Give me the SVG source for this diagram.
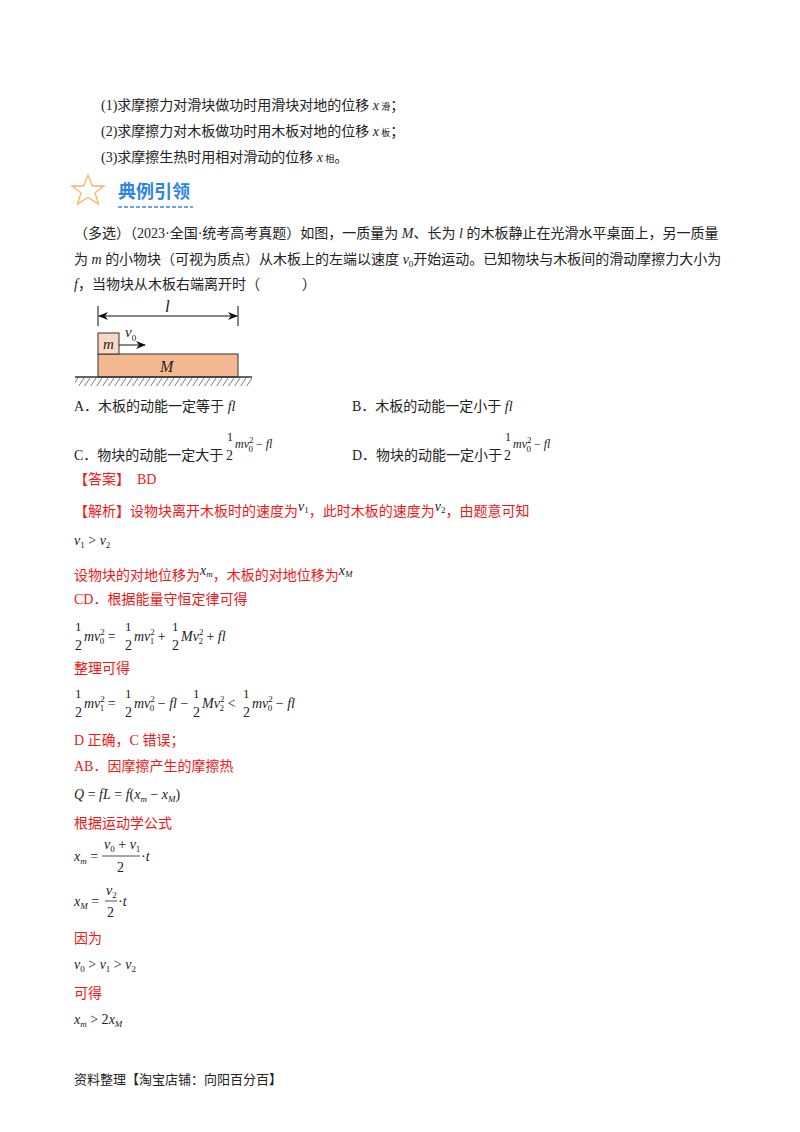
<svg xmlns="http://www.w3.org/2000/svg" width="800" height="1132" viewBox="0 0 800 1132">
<style>
text{font-family:"Liberation Serif","Noto Sans CJK SC",serif;font-size:14px;fill:#222}
.r{fill:#f01818}
.i{font-style:italic}
.s{font-size:9px}
.m{font-family:"Liberation Serif",serif;font-size:14px}
</style>
<defs>
<marker id="ar" markerWidth="10" markerHeight="8" refX="9" refY="4" orient="auto" markerUnits="userSpaceOnUse"><path d="M0,0 L10,4 L0,8 L3,4Z" fill="#111"/></marker>
<marker id="al" markerWidth="10" markerHeight="8" refX="1" refY="4" orient="auto" markerUnits="userSpaceOnUse"><path d="M10,0 L0,4 L10,8 L7,4Z" fill="#111"/></marker>
<pattern id="h" width="6" height="9" patternUnits="userSpaceOnUse"><path d="M6,0 L0,9" stroke="#555" stroke-width="0.8"/></pattern>
</defs>
<rect width="800" height="1132" fill="#fff"/>
<text x="101" y="110">(1)求摩擦力对滑块做功时用滑块对地的位移 <tspan class="i">x</tspan><tspan class="s"> 滑</tspan>；</text>
<text x="101" y="136">(2)求摩擦力对木板做功时用木板对地的位移 <tspan class="i">x</tspan><tspan class="s"> 板</tspan>；</text>
<text x="101" y="162">(3)求摩擦生热时用相对滑动的位移 <tspan class="i">x</tspan><tspan class="s"> 相</tspan>。</text>
<g id="title">
<polygon points="88,175 92.5,186 104,186 95,193 98.5,204 88,197.5 77.5,204 81,193 72,186 83.5,186" fill="none" stroke="#f0b860" stroke-width="1.3"/>
<text x="118" y="198" style="font-family:'Noto Sans CJK SC',sans-serif;font-size:18px;fill:#2f86e0;font-weight:bold">典例引领</text>
<line x1="118" y1="207" x2="193" y2="207" stroke="#6aa6ea" stroke-width="2" stroke-dasharray="4,2"/>
</g>
<text x="74" y="238">（多选）（2023·全国·统考高考真题）如图，一质量为 <tspan class="i">M</tspan>、长为 <tspan class="i">l</tspan> 的木板静止在光滑水平桌面上，另一质量</text>
<text x="74" y="264">为 <tspan class="i">m</tspan> 的小物块（可视为质点）从木板上的左端以速度 <tspan class="i">v</tspan><tspan class="s" dy="3">0</tspan><tspan dy="-3">开始运动。已知物块与木板间的滑动摩擦力大小为</tspan></text>
<text x="74" y="289"><tspan class="i">f</tspan>，当物块从木板右端离开时（　　　）</text>
<g id="figure">
<line x1="98" y1="306" x2="98" y2="326" stroke="#111"/>
<line x1="238" y1="306" x2="238" y2="326" stroke="#111"/>
<line x1="99" y1="316" x2="237" y2="316" stroke="#111" marker-start="url(#al)" marker-end="url(#ar)"/>
<text x="165" y="312" class="i" style="font-size:17px">l</text>
<rect x="75" y="377" width="177" height="9" fill="url(#h)"/>
<rect x="98" y="354" width="140" height="23" fill="#f4b890" stroke="#333"/>
<rect x="98" y="333" width="21" height="21" fill="#f8d8c4" stroke="#333"/>
<line x1="75" y1="377" x2="252" y2="377" stroke="#333" stroke-width="1.3"/>
<text x="103" y="349" class="i" style="font-size:15px">m</text>
<text x="160" y="372" class="i" style="font-size:16px">M</text>
<line x1="119" y1="345" x2="145" y2="345" stroke="#111" marker-end="url(#ar)"/>
<text x="125" y="337" class="i" style="font-size:15px">v<tspan class="s" dy="4" style="font-style:normal">0</tspan></text>
</g>
<text x="74" y="411">A．木板的动能一定等于 <tspan class="i">fl</tspan></text>
<text x="352" y="411">B．木板的动能一定小于 <tspan class="i">fl</tspan></text>
<text x="74" y="460">C．物块的动能一定大于</text>
<text x="227" y="441" style="font-size:12px">1</text><text x="226" y="460">2</text>
<text x="235" y="448" class="i" style="font-size:12px">mv<tspan class="s" dy="-5" style="font-style:normal">2</tspan><tspan class="s" dx="-5" dy="9" style="font-style:normal">0</tspan><tspan dy="-4" style="font-style:normal"> − </tspan>fl</text>
<text x="352" y="460">D．物块的动能一定小于</text>
<text x="505" y="441" style="font-size:12px">1</text><text x="504" y="460">2</text>
<text x="513" y="448" class="i" style="font-size:12px">mv<tspan class="s" dy="-5" style="font-style:normal">2</tspan><tspan class="s" dx="-5" dy="9" style="font-style:normal">0</tspan><tspan dy="-4" style="font-style:normal"> − </tspan>fl</text>
<text x="74" y="484" class="r">【答案】　BD</text>
<text x="74" y="516" class="r">【解析】设物块离开木板时的速度为<tspan class="i" dy="-5" style="fill:#222">v</tspan><tspan class="s" dy="2" style="fill:#222">1</tspan><tspan dy="3">，此时木板的速度为</tspan><tspan class="i" dy="-5" style="fill:#222">v</tspan><tspan class="s" dy="2" style="fill:#222">2</tspan><tspan dy="3">，由题意可知</tspan></text>
<text x="74" y="545" class="m"><tspan class="i">v</tspan><tspan class="s" dy="3">1</tspan><tspan dy="-3"> &gt; </tspan><tspan class="i">v</tspan><tspan class="s" dy="3">2</tspan></text>
<text x="74" y="580" class="r">设物块的对地位移为<tspan class="i" dy="-5" style="fill:#222">x</tspan><tspan class="s i" dy="2" style="fill:#222">m</tspan><tspan dy="3">，木板的对地位移为</tspan><tspan class="i" dy="-5" style="fill:#222">x</tspan><tspan class="s i" dy="2" style="fill:#222">M</tspan></text>
<text x="74" y="604" class="r">CD．根据能量守恒定律可得</text>
<g class="eq1">
<text x="75" y="631" style="font-size:13px">1</text><text x="75" y="650">2</text>
<text x="84" y="641" class="m"><tspan class="i">mv</tspan><tspan class="s" dy="-6">2</tspan><tspan class="s" dx="-5" dy="9">0</tspan><tspan dy="-3"> = </tspan></text>
<text x="125" y="631" style="font-size:13px">1</text><text x="125" y="650">2</text>
<text x="134" y="641" class="m"><tspan class="i">mv</tspan><tspan class="s" dy="-6">2</tspan><tspan class="s" dx="-5" dy="9">1</tspan><tspan dy="-3"> + </tspan></text>
<text x="172" y="631" style="font-size:13px">1</text><text x="172" y="650">2</text>
<text x="181" y="641" class="m"><tspan class="i">Mv</tspan><tspan class="s" dy="-6">2</tspan><tspan class="s" dx="-5" dy="9">2</tspan><tspan dy="-3"> + </tspan><tspan class="i">fl</tspan></text>
</g>
<text x="74" y="673" class="r">整理可得</text>
<g class="eq2">
<text x="75" y="698" style="font-size:13px">1</text><text x="75" y="717">2</text>
<text x="84" y="708" class="m"><tspan class="i">mv</tspan><tspan class="s" dy="-6">2</tspan><tspan class="s" dx="-5" dy="9">1</tspan><tspan dy="-3"> = </tspan></text>
<text x="125" y="698" style="font-size:13px">1</text><text x="125" y="717">2</text>
<text x="134" y="708" class="m"><tspan class="i">mv</tspan><tspan class="s" dy="-6">2</tspan><tspan class="s" dx="-5" dy="9">0</tspan><tspan dy="-3"> − </tspan><tspan class="i">fl</tspan> −</text>
<text x="193" y="698" style="font-size:13px">1</text><text x="193" y="717">2</text>
<text x="202" y="708" class="m"><tspan class="i">Mv</tspan><tspan class="s" dy="-6">2</tspan><tspan class="s" dx="-5" dy="9">2</tspan><tspan dy="-3"> &lt; </tspan></text>
<text x="243" y="698" style="font-size:13px">1</text><text x="243" y="717">2</text>
<text x="252" y="708" class="m"><tspan class="i">mv</tspan><tspan class="s" dy="-6">2</tspan><tspan class="s" dx="-5" dy="9">0</tspan><tspan dy="-3"> − </tspan><tspan class="i">fl</tspan></text>
</g>
<text x="74" y="745" class="r">D 正确，C 错误；</text>
<text x="74" y="771" class="r">AB．因摩擦产生的摩擦热</text>
<text x="74" y="799" class="m"><tspan class="i">Q</tspan> = <tspan class="i">fL</tspan> = <tspan class="i">f</tspan>(<tspan class="i">x</tspan><tspan class="s i" dy="3">m</tspan><tspan dy="-3"> − </tspan><tspan class="i">x</tspan><tspan class="s i" dy="3">M</tspan><tspan dy="-3">)</tspan></text>
<text x="74" y="828" class="r">根据运动学公式</text>
<text x="74" y="861" class="m"><tspan class="i">x</tspan><tspan class="s i" dy="3">m</tspan><tspan dy="-3"> =</tspan></text>
<text x="104" y="849" class="m"><tspan class="i">v</tspan><tspan class="s" dy="3">0</tspan><tspan dy="-3"> + </tspan><tspan class="i">v</tspan><tspan class="s" dy="3">1</tspan></text>
<line x1="102" y1="856" x2="140" y2="856" stroke="#222" stroke-width="0.8"/>
<text x="117" y="872" class="m">2</text>
<text x="141" y="861" class="m">·<tspan class="i">t</tspan></text>
<text x="74" y="906" class="m"><tspan class="i">x</tspan><tspan class="s i" dy="3">M</tspan><tspan dy="-3"> =</tspan></text>
<text x="106" y="895" class="m"><tspan class="i">v</tspan><tspan class="s" dy="3">2</tspan></text>
<line x1="105" y1="901" x2="117" y2="901" stroke="#222" stroke-width="0.8"/>
<text x="107" y="917" class="m">2</text>
<text x="118" y="906" class="m">·<tspan class="i">t</tspan></text>
<text x="74" y="943" class="r">因为</text>
<text x="74" y="969" class="m"><tspan class="i">v</tspan><tspan class="s" dy="3">0</tspan><tspan dy="-3"> &gt; </tspan><tspan class="i">v</tspan><tspan class="s" dy="3">1</tspan><tspan dy="-3"> &gt; </tspan><tspan class="i">v</tspan><tspan class="s" dy="3">2</tspan></text>
<text x="74" y="998" class="r">可得</text>
<text x="74" y="1024" class="m"><tspan class="i">x</tspan><tspan class="s i" dy="3">m</tspan><tspan dy="-3"> &gt; 2</tspan><tspan class="i">x</tspan><tspan class="s i" dy="3">M</tspan></text>
<text x="74" y="1084" style="font-size:13px">资料整理【淘宝店铺：向阳百分百】</text>
</svg>
